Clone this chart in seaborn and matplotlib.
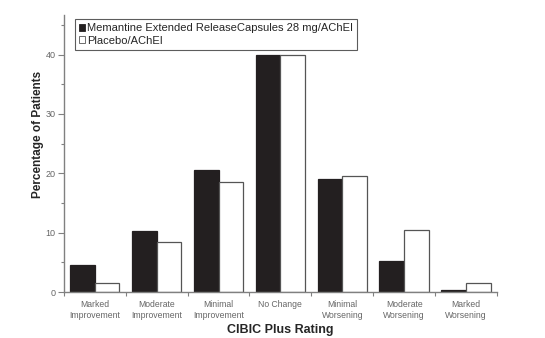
import matplotlib
matplotlib.use("Agg")
import matplotlib.pyplot as plt
import seaborn as sns
import pandas as pd
import numpy as np
from matplotlib.ticker import MultipleLocator, FixedLocator
from matplotlib.patches import Patch

categories = ["Marked\nImprovement", "Moderate\nImprovement", "Minimal\nImprovement",
              "No Change", "Minimal\nWorsening", "Moderate\nWorsening", "Marked\nWorsening"]
memantine = [4.5, 10.35, 20.5, 39.9, 19.0, 5.2, 0.35]
placebo = [1.45, 8.5, 18.5, 39.9, 19.6, 10.4, 1.45]
series_names = ["Memantine Extended ReleaseCapsules 28 mg/AChEI", "Placebo/AChEI"]

df = pd.DataFrame({
    "cat": categories * 2,
    "val": memantine + placebo,
    "series": [series_names[0]] * 7 + [series_names[1]] * 7,
})

sns.set_style("white")
plt.rcParams["font.family"] = ["Liberation Sans", "DejaVu Sans"]

fig = plt.figure(figsize=(5.45, 3.38), dpi=100)
ax = fig.add_axes([0.117, 0.136, 0.795, 0.82])

sns.barplot(data=df, x="cat", y="val", hue="series", order=categories,
            hue_order=series_names, palette=["#231f20", "#ffffff"],
            width=0.8, gap=0, ax=ax, legend=False, saturation=1)

for i, p in enumerate(ax.patches):
    if i < 7:
        p.set_edgecolor("#231f20")
    else:
        p.set_edgecolor("#555555")
    p.set_linewidth(0.9)

ax.set_xlim(-0.5, 6.5)
ax.set_ylim(0, 46.7)
ax.yaxis.set_major_locator(MultipleLocator(10))
ax.yaxis.set_minor_locator(MultipleLocator(5))
ax.xaxis.set_minor_locator(FixedLocator(np.arange(-0.5, 7, 1)))

for s in ["top", "right"]:
    ax.spines[s].set_visible(False)
for s in ["left", "bottom"]:
    ax.spines[s].set_color("#808080")
    ax.spines[s].set_linewidth(1.0)

ax.tick_params(axis="y", which="major", direction="out", length=4, width=0.8,
               color="#808080", labelsize=6.5, labelcolor="#666666", pad=2, left=True)
ax.tick_params(axis="y", which="minor", direction="out", length=2, width=0.8,
               color="#808080", left=True)
ax.tick_params(axis="x", which="major", length=0, labelsize=6.2, labelcolor="#666666", pad=6)
ax.tick_params(axis="x", which="minor", direction="out", length=3, width=0.8,
               color="#808080", bottom=True)

ax.set_xlabel("CIBIC Plus Rating", fontsize=9, fontweight="bold", labelpad=3)
ax.set_ylabel("Percentage of Patients", fontsize=8.5, fontweight="bold")
ax.yaxis.set_label_coords(-0.046, 0.567)

handles = [Patch(facecolor="#231f20", edgecolor="#231f20", linewidth=0.6),
           Patch(facecolor="white", edgecolor="#555555", linewidth=0.6)]
leg = ax.legend(handles, series_names, loc="upper left", bbox_to_anchor=(0.025, 0.985),
                fontsize=8, frameon=True, fancybox=False, handlelength=0.55,
                handleheight=0.55, handletextpad=0.15, borderpad=0.4,
                labelspacing=0.2, borderaxespad=0)
leg.get_frame().set_edgecolor("#333333")
leg.get_frame().set_linewidth(0.8)

fig.savefig("out.png", dpi=100)
